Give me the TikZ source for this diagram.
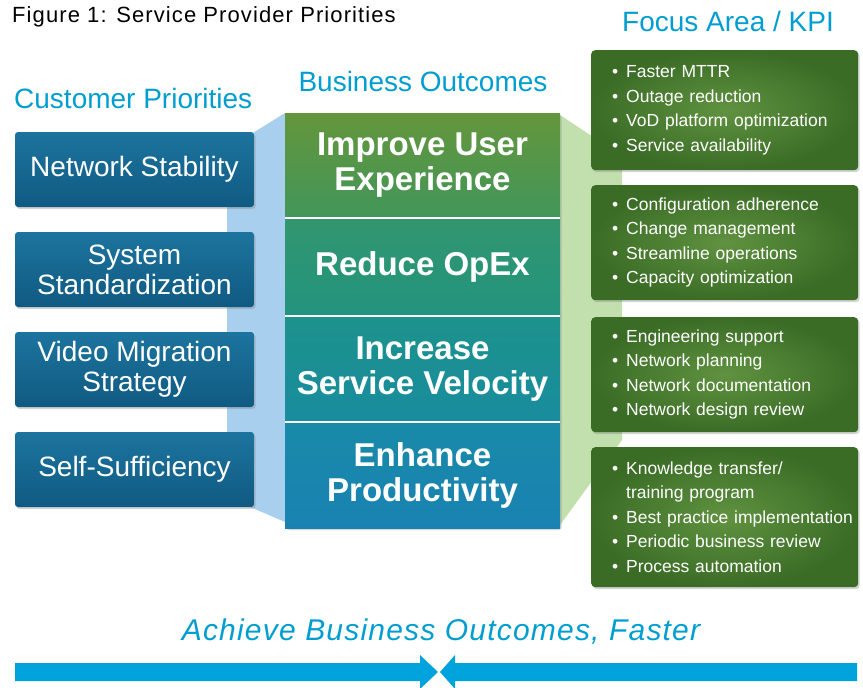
\documentclass[tikz,border=0pt]{standalone}
\usepackage{fontspec}
\setmainfont{Liberation Sans}
\usetikzlibrary{shadows}
\definecolor{headcyan}{RGB}{0,158,208}
\definecolor{arrowcyan}{RGB}{0,163,220}
\definecolor{prioTop}{RGB}{28,116,158}
\definecolor{prioBot}{RGB}{16,90,130}
\definecolor{kpiIn}{RGB}{96,146,64}
\definecolor{kpiOut}{RGB}{58,108,38}
\definecolor{bandblue}{RGB}{168,208,238}
\definecolor{bandgreen}{RGB}{194,223,174}
\newcommand{\kpiitem}[1]{\mbox{\makebox[14pt][l]{\textbullet}#1}}

\begin{document}
\begin{tikzpicture}[x=1pt, y=-1pt,
	heading/.style={text=headcyan, font=\fontsize{28}{32}\selectfont, inner sep=0},
	prio/.style={rectangle, rounded corners=3pt, top color=prioTop, bottom color=prioBot,
		text=white, align=center, minimum width=239pt, minimum height=75pt,
		font=\fontsize{28}{30}\selectfont,
		drop shadow={opacity=0.35, shadow xshift=1.5pt, shadow yshift=-2pt}},
	outcome/.style={rectangle, inner sep=0, text=white, align=center,
		minimum width=275pt, font=\bfseries\fontsize{33}{35}\selectfont},
	kpi/.style={rectangle, rounded corners=4pt, inner color=kpiIn, outer color=kpiOut,
		text=white, align=left, text width=225pt, inner xsep=21pt, anchor=north west,
		font=\fontsize{17.5}{24.5}\selectfont,
		drop shadow={opacity=0.35, shadow xshift=1.5pt, shadow yshift=-2pt}}]
	\useasboundingbox (0,0) rectangle (863,688);

	% bands behind the columns
	\fill[bandblue] (227,149) -- (285,113) -- (285,522) -- (227,497) -- cycle;
	\fill[bandgreen] (560,115) -- (622,156) -- (622,440) -- (560,525) -- cycle;

	\node[anchor=base west, inner sep=0, font=\fontsize{22}{24}\selectfont\addfontfeature{LetterSpace=5}] (title) at (12,22) {Figure 1: Service Provider Priorities};
	\node[heading, anchor=base] (hkpi) at (728,31) {Focus Area / KPI};
	\node[heading, anchor=base] (hout) at (423,91) {Business Outcomes};
	\node[heading, anchor=base west] (hprio) at (14,108) {Customer Priorities};

	% customer priorities
	\node[prio] (stab) at (134.5,169.5) {Network Stability};
	\node[prio] (std) at (134.5,269.5) {System\\Standardization};
	\node[prio] (video) at (134.5,369.5) {Video Migration\\Strategy};
	\node[prio] (self) at (134.5,469.5) {Self-Sufficiency};

	% business outcomes
	\fill[rounded corners=3pt, white, drop shadow={opacity=0.35, shadow xshift=1.5pt, shadow yshift=-2pt}] (285,113) rectangle (560,528);
	\node[outcome, minimum height=105pt, top color={rgb,255:red,100;green,150;blue,60}, bottom color={rgb,255:red,66;green,150;blue,90}] (ux) at (422.5,165.5) {Improve User\\Experience};
	\node[outcome, minimum height=98pt, top color={rgb,255:red,50;green,150;blue,110}, bottom color={rgb,255:red,34;green,148;blue,126}] (opex) at (422.5,267) {Reduce OpEx};
	\node[outcome, minimum height=106pt, top color={rgb,255:red,28;green,146;blue,140}, bottom color={rgb,255:red,25;green,140;blue,158}] (vel) at (422.5,369) {Increase\\Service Velocity};
	\node[outcome, minimum height=106pt, top color={rgb,255:red,25;green,138;blue,168}, bottom color={rgb,255:red,25;green,130;blue,178}] (prod) at (422.5,475) {Enhance\\Productivity};
	\draw[white, line width=1.5pt] (ux.south west) -- (ux.south east);
	\draw[white, line width=1.5pt] (opex.south west) -- (opex.south east);
	\draw[white, line width=1.5pt] (vel.south west) -- (vel.south east);

	% focus areas
	\node[kpi, minimum height=120pt] (k1) at (591,50) {\kpiitem{Faster MTTR}\\\kpiitem{Outage reduction}\\\kpiitem{VoD platform optimization}\\\kpiitem{Service availability}};
	\node[kpi, minimum height=115pt] (k2) at (591,185) {\kpiitem{Configuration adherence}\\\kpiitem{Change management}\\\kpiitem{Streamline operations}\\\kpiitem{Capacity optimization}};
	\node[kpi, minimum height=115pt] (k3) at (591,317) {\kpiitem{Engineering support}\\\kpiitem{Network planning}\\\kpiitem{Network documentation}\\\kpiitem{Network design review}};
	\node[kpi, minimum height=140pt] (k4) at (591,447) {\kpiitem{Knowledge transfer/}\\\hspace*{14pt}training program\\\kpiitem{Best practice implementation}\\\kpiitem{Periodic business review}\\\kpiitem{Process automation}};

	\node[anchor=base, inner sep=0, text=headcyan, font=\itshape\fontsize{30}{32}\selectfont\addfontfeature{LetterSpace=4}] (goal) at (441,640) {Achieve Business Outcomes, Faster};

	% converging arrows
	\fill[arrowcyan] (15,663) -- (420,663) -- (420,655) -- (438,672) -- (420,689) -- (420,681) -- (15,681) -- cycle;
	\fill[arrowcyan] (857,663) -- (455,663) -- (455,655) -- (440,672) -- (455,689) -- (455,681) -- (857,681) -- cycle;
\end{tikzpicture}
\end{document}
